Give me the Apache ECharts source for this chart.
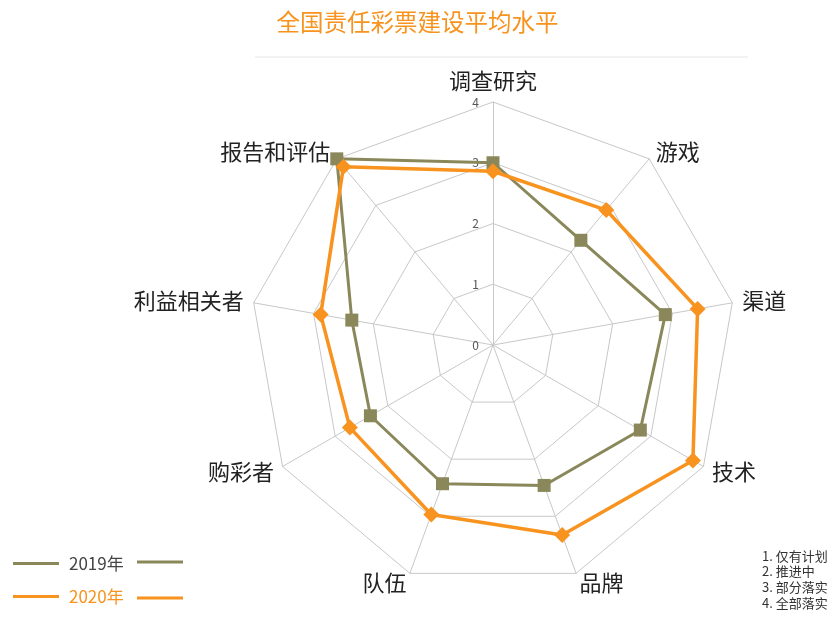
<!DOCTYPE html>
<html>
<head>
<meta charset="utf-8">
<script src="https://cdn.jsdelivr.net/npm/echarts@6/dist/echarts.min.js"></script>
<style>html,body{margin:0;padding:0;background:#fff;}#main{width:835px;height:618px;}</style>
</head>
<body>
<div id="main"></div>
<script>
const titleText = '全国责任彩票建设平均水平';
// indicators listed clockwise from the top
const indicators = ['调查研究', '游戏', '渠道', '技术', '品牌', '队伍', '购彩者', '利益相关者', '报告和评估'];
const values2019 = [3.0, 2.25, 2.88, 2.8, 2.46, 2.43, 2.33, 2.36, 4.0];
const values2020 = [2.86, 2.9, 3.42, 3.8, 3.33, 2.97, 2.72, 2.88, 3.83];
const seriesNames = ['2019年', '2020年'];
const notes = ['1. 仅有计划', '2. 推进中', '3. 部分落实', '4. 全部落实'];
const maxValue = 4;

const olive = '#8a885a';
const orange = '#f7931e';

// ECharts radar runs counter-clockwise: reorder so the picture reads clockwise
const order = indicators.map((_, i) => (indicators.length - i) % indicators.length);
const reorder = arr => order.map(i => arr[i]);

const chart = echarts.init(document.getElementById('main'));
const font = '"Noto Sans CJK SC", "Noto Sans", sans-serif';

chart.setOption({
  backgroundColor: '#fff',
  textStyle: { fontFamily: font },
  title: {
    text: titleText,
    left: 'center',
    top: 5,
    textStyle: { color: orange, fontSize: 23.5, fontWeight: 'normal', fontFamily: font }
  },
  legend: {
    orient: 'vertical',
    left: 8,
    top: 550,
    itemWidth: 46,
    itemHeight: 3,
    itemGap: 16,
    icon: 'rect',
    textStyle: { fontSize: 17, fontFamily: font, padding: [0, 0, 0, 5] },
    data: [
      { name: seriesNames[0], textStyle: { color: '#444' } },
      { name: seriesNames[1], textStyle: { color: orange } }
    ]
  },
  radar: {
    center: [493, 345],
    radius: 243,
    startAngle: 90,
    shape: 'polygon',
    splitNumber: 4,
    axisName: { color: '#222', fontSize: 22, fontFamily: font },
    nameGap: 10,
    splitLine: { lineStyle: { color: '#c8c8c8', width: 1 } },
    splitArea: { show: false },
    axisLine: { lineStyle: { color: '#c8c8c8', width: 1 } },
    axisLabel: { show: false },
    indicator: reorder(indicators).map((n, i) => {
      const o = { name: n, min: 0, max: maxValue };
      if (i === 0) {
        o.axisLabel = { show: true, color: '#555', fontSize: 12, margin: 14, showMinLabel: true };
      }
      return o;
    })
  },
  graphic: [
    { type: 'line', shape: { x1: 255, y1: 57, x2: 748, y2: 57 }, style: { stroke: '#e6e6e6', lineWidth: 1 } },
    { type: 'line', shape: { x1: 137, y1: 562, x2: 183, y2: 562 }, style: { stroke: olive, lineWidth: 3 } },
    { type: 'line', shape: { x1: 137, y1: 598, x2: 183, y2: 598 }, style: { stroke: orange, lineWidth: 3 } },
    {
      type: 'text', left: 762, top: 548,
      style: { text: notes.join('\n'), fontSize: 13, lineHeight: 15.6, fill: '#333', fontFamily: font }
    }
  ],
  series: [{
    type: 'radar',
    data: [
      {
        name: seriesNames[0], value: reorder(values2019),
        symbol: 'rect', symbolSize: 13,
        itemStyle: { color: olive },
        lineStyle: { color: olive, width: 3 }
      },
      {
        name: seriesNames[1], value: reorder(values2020),
        symbol: 'diamond', symbolSize: 16,
        itemStyle: { color: orange },
        lineStyle: { color: orange, width: 3.5 }
      }
    ]
  }]
});
</script>
</body>
</html>
